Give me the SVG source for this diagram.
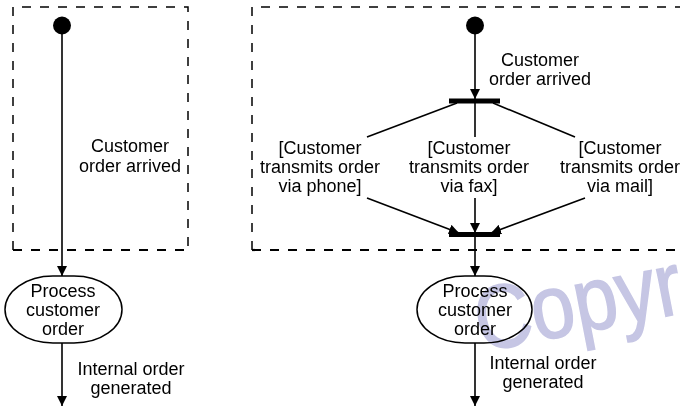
<svg xmlns="http://www.w3.org/2000/svg" width="680" height="406" viewBox="0 0 680 406">
<style>
.t{font-family:"Liberation Sans",Arial,sans-serif;font-size:18px;fill:#000;text-anchor:middle}
.ln{stroke:#000;stroke-width:1.6;fill:none}
.box{stroke:#000;stroke-width:1.5;fill:none;stroke-dasharray:9 9}
.boxb{stroke:#000;stroke-width:2.2;fill:none;stroke-dasharray:9 9}
.act{fill:#fff;stroke:#000;stroke-width:1.5}
.bar{fill:#000}
.wm{font-family:"Liberation Sans",Arial,sans-serif;font-size:90px;fill:#c6c6e4;stroke:#c6c6e4;stroke-width:1.6;mix-blend-mode:multiply}
</style>
<defs>
<marker id="ah" viewBox="0 0 10 10" refX="10" refY="5" markerWidth="10" markerHeight="10" markerUnits="userSpaceOnUse" orient="auto">
<path d="M0,0 L10,5 L0,10 Z" fill="#000"/>
</marker>
</defs>
<g id="regions">
<path class="box" d="M13,250 L13,7 L188,7 L188,250"/>
<path class="boxb" d="M13,250 L188,250"/>
<path class="box" d="M252,250 L252,7 L680,7"/>
<path class="boxb" d="M252,250 L680,250"/>
</g>
<g id="connectors">
<line class="ln" x1="62" y1="26" x2="62" y2="276" marker-end="url(#ah)"/>
<line class="ln" x1="62" y1="343" x2="62" y2="406" marker-end="url(#ah)"/>
<line class="ln" x1="475" y1="26" x2="475" y2="99" marker-end="url(#ah)"/>
<line class="ln" x1="457" y1="103" x2="367" y2="137"/>
<line class="ln" x1="475" y1="103" x2="475" y2="137"/>
<line class="ln" x1="493" y1="103" x2="575" y2="137"/>
<line class="ln" x1="367" y1="198" x2="459" y2="233" marker-end="url(#ah)"/>
<line class="ln" x1="475" y1="198" x2="475" y2="233" marker-end="url(#ah)"/>
<line class="ln" x1="585" y1="198" x2="491" y2="233" marker-end="url(#ah)"/>
<line class="ln" x1="475" y1="237" x2="475" y2="276" marker-end="url(#ah)"/>
<line class="ln" x1="475" y1="343" x2="475" y2="406" marker-end="url(#ah)"/>
</g>
<g id="start1"><circle cx="62" cy="25.5" r="9" fill="#000"/></g>
<g id="start2"><circle cx="475" cy="25.5" r="9" fill="#000"/></g>
<g id="fork"><rect class="bar" x="449" y="98.5" width="51" height="5"/></g>
<g id="join"><rect class="bar" x="449" y="232" width="51" height="5"/></g>
<g id="process1">
<rect class="act" x="5" y="276" width="117" height="67" rx="48" ry="33.5"/>
<text class="t" x="63" y="297">Process</text>
<text class="t" x="63" y="316">customer</text>
<text class="t" x="63" y="335">order</text>
</g>
<g id="process2">
<rect class="act" x="417" y="276" width="115" height="67" rx="48" ry="33.5"/>
<text class="t" x="475" y="297">Process</text>
<text class="t" x="475" y="316">customer</text>
<text class="t" x="475" y="335">order</text>
</g>
<g id="labels">
<text class="t" x="130" y="152">Customer</text>
<text class="t" x="130" y="172">order arrived</text>
<text class="t" x="131" y="375">Internal order</text>
<text class="t" x="131" y="394">generated</text>
<text class="t" x="540" y="66">Customer</text>
<text class="t" x="540" y="85">order arrived</text>
<text class="t" x="320" y="154">[Customer</text>
<text class="t" x="320" y="173">transmits order</text>
<text class="t" x="320" y="192">via phone]</text>
<text class="t" x="469" y="154">[Customer</text>
<text class="t" x="469" y="173">transmits order</text>
<text class="t" x="469" y="192">via fax]</text>
<text class="t" x="620" y="154">[Customer</text>
<text class="t" x="620" y="173">transmits order</text>
<text class="t" x="620" y="192">via mail]</text>
<text class="t" x="543" y="369">Internal order</text>
<text class="t" x="543" y="388">generated</text>
</g>
<text class="wm" transform="translate(481,352) rotate(-11) scale(0.87,1)">Copyr</text>
</svg>
